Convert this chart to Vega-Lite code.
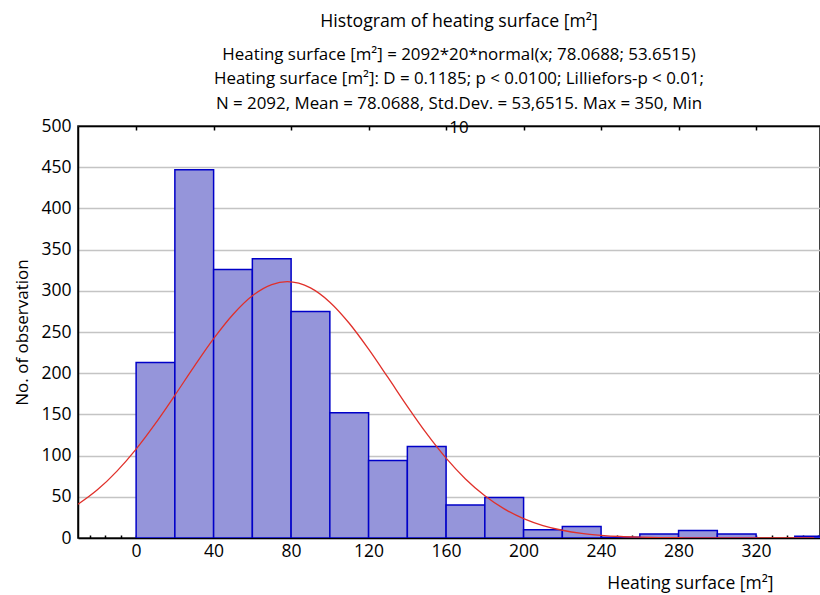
{
  "$schema": "https://vega.github.io/schema/vega-lite/v6.json",
  "autosize": {"type": "none"},
  "padding": {"left": 78, "top": 126, "right": 0, "bottom": 57},
  "width": 742,
  "height": 412,
  "background": "white",
  "config": {
    "font": "Open Sans",
    "view": {"stroke": "black", "strokeWidth": 1.5},
    "axis": {"labelFont": "Open Sans", "titleFont": "Open Sans", "labelFontSize": 17.5, "titleFontSize": 17, "labelColor": "black", "titleColor": "black", "titleFontWeight": "normal"}
  },
  "title": {
    "text": "Histogram of heating surface [m²]",
    "subtitle": [
      "Heating surface [m²] = 2092*20*normal(x; 78.0688; 53.6515)",
      "Heating surface [m²]: D = 0.1185; p < 0.0100; Lilliefors-p < 0.01;",
      "N = 2092, Mean = 78.0688, Std.Dev. = 53,6515. Max = 350, Min",
      "10"
    ],
    "anchor": "middle",
    "dx": 10,
    "offset": -19,
    "font": "Open Sans",
    "fontSize": 17.7,
    "fontWeight": "normal",
    "color": "black",
    "subtitleFont": "Open Sans",
    "subtitleFontSize": 16.9,
    "subtitleColor": "black",
    "subtitleLineHeight": 24.3,
    "subtitlePadding": 17
  },
  "datasets": {
    "bins": [
      {"lo": 0, "hi": 20, "count": 213},
      {"lo": 20, "hi": 40, "count": 447},
      {"lo": 40, "hi": 60, "count": 326},
      {"lo": 60, "hi": 80, "count": 339},
      {"lo": 80, "hi": 100, "count": 275},
      {"lo": 100, "hi": 120, "count": 152},
      {"lo": 120, "hi": 140, "count": 94},
      {"lo": 140, "hi": 160, "count": 111},
      {"lo": 160, "hi": 180, "count": 40},
      {"lo": 180, "hi": 200, "count": 49},
      {"lo": 200, "hi": 220, "count": 10},
      {"lo": 220, "hi": 240, "count": 14},
      {"lo": 240, "hi": 260, "count": 1},
      {"lo": 260, "hi": 280, "count": 5},
      {"lo": 280, "hi": 300, "count": 9},
      {"lo": 300, "hi": 320, "count": 5},
      {"lo": 340, "hi": 360, "count": 2}
    ],
    "curve": [
      {"x": -30, "y": 40.9}, {"x": -20, "y": 58.5}, {"x": -10, "y": 80.9}, {"x": 0, "y": 107.9},
      {"x": 10, "y": 139.1}, {"x": 20, "y": 173.2}, {"x": 30, "y": 208.3}, {"x": 40, "y": 241.9},
      {"x": 50, "y": 271.3}, {"x": 60, "y": 294.0}, {"x": 70, "y": 307.6}, {"x": 78, "y": 311.1},
      {"x": 90, "y": 303.5}, {"x": 100, "y": 286.2}, {"x": 110, "y": 260.6}, {"x": 120, "y": 229.2},
      {"x": 130, "y": 194.8}, {"x": 140, "y": 159.8}, {"x": 150, "y": 126.6}, {"x": 160, "y": 96.9},
      {"x": 170, "y": 71.7}, {"x": 180, "y": 51.2}, {"x": 190, "y": 35.3}, {"x": 200, "y": 23.5},
      {"x": 210, "y": 15.1}, {"x": 220, "y": 9.4}, {"x": 230, "y": 5.6}, {"x": 240, "y": 3.3},
      {"x": 250, "y": 1.8}, {"x": 260, "y": 1.0}, {"x": 270, "y": 0.5}, {"x": 280, "y": 0.3},
      {"x": 290, "y": 0.1}, {"x": 300, "y": 0.06}, {"x": 320, "y": 0.0}, {"x": 350, "y": 0.0}
    ]
  },
  "layer": [
    {
      "data": {"name": "bins"},
      "mark": {"type": "bar", "fill": "#9595da", "stroke": "#0000c8", "strokeWidth": 1.5, "clip": true},
      "encoding": {
        "x": {
          "field": "lo", "type": "quantitative",
          "scale": {"domain": [-30, 353], "nice": false, "zero": false},
          "axis": {
            "orient": "bottom",
            "title": "Heating surface [m²]",
            "titleAnchor": "end",
            "titleAlign": "right",
            "titleBaseline": "alphabetic",
            "titleFontSize": 17.5,
            "titleX": 695,
            "titleY": 50,
            "values": [-24, -16, -8, 0, 8, 16, 24, 32, 40, 48, 56, 64, 72, 80, 88, 96, 104, 112, 120, 128, 136, 144, 152, 160, 168, 176, 184, 192, 200, 208, 216, 224, 232, 240, 248, 256, 264, 272, 280, 288, 296, 304, 312, 320, 328, 336, 344, 352],
            "labelExpr": "(datum.value % 40 === 0 && datum.value >= 0 && datum.value <= 320) ? datum.label : ''",
            "tickSize": -3,
            "tickColor": "black",
            "tickWidth": 1.5,
            "domainColor": "black",
            "domainWidth": 1.5,
            "labelPadding": 7,
            "labelFlush": false,
            "labelOverlap": false,
            "grid": false
          }
        },
        "x2": {"field": "hi"},
        "y": {
          "field": "count", "type": "quantitative",
          "scale": {"domain": [0, 500], "nice": false},
          "axis": {
            "title": "No. of observation",
            "values": [0, 50, 100, 150, 200, 250, 300, 350, 400, 450, 500],
            "ticks": false,
            "labelPadding": 7,
            "domainColor": "black",
            "domainWidth": 1.5,
            "gridColor": "#c4c4c4",
            "gridWidth": 1.5,
            "titlePadding": 9
          }
        },
        "y2": {"datum": 0}
      }
    },
    {
      "data": {"name": "curve"},
      "mark": {"type": "line", "color": "#e0302a", "strokeWidth": 1.3, "interpolate": "monotone", "clip": true},
      "encoding": {
        "x": {
          "field": "x", "type": "quantitative",
          "scale": {"domain": [-30, 353], "nice": false, "zero": false},
          "axis": {
            "orient": "top",
            "title": null,
            "values": [0, 40, 80, 120, 160, 200, 240, 280, 320],
            "labels": false,
            "tickSize": -4,
            "tickColor": "black",
            "tickWidth": 1.5,
            "domainColor": "black",
            "domainWidth": 1.5,
            "grid": false
          }
        },
        "y": {"field": "y", "type": "quantitative"}
      }
    }
  ],
  "resolve": {"axis": {"x": "independent"}}
}
